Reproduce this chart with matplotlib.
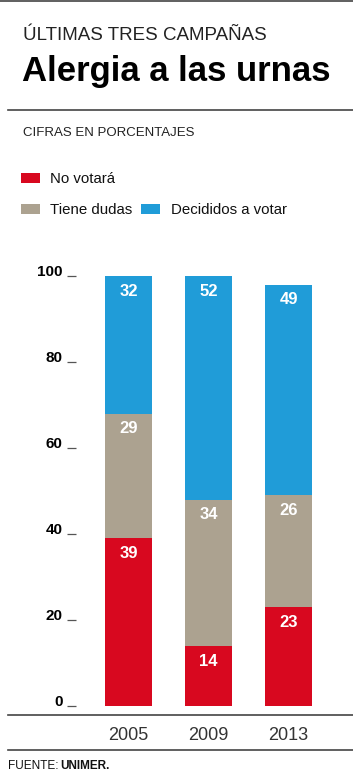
import matplotlib
matplotlib.use("Agg")
import matplotlib.pyplot as plt
from matplotlib.patches import Rectangle
from matplotlib.lines import Line2D
import numpy as np

plt.rcParams['font.family'] = ['Liberation Sans', 'DejaVu Sans']

# data
years = ["2005", "2009", "2013"]
no_votara = [39, 14, 23]
tiene_dudas = [29, 34, 26]
decididos = [32, 52, 49]
series_names = ["No votará", "Tiene dudas", "Decididos a votar"]
colors = ["#d8081f", "#aca290", "#209cd8"]
yticks = [0, 20, 40, 60, 80, 100]

W, H = 353, 773
fig = plt.figure(figsize=(W / 100, H / 100), dpi=100)

def fx(px):
    return px / W

def fy(py):
    return 1 - py / H

# header
fig.text(fx(23), fy(39.5), "ÚLTIMAS TRES CAMPAÑAS", fontsize=13.5, color="#222222",
         va="baseline", ha="left")
fig.text(fx(22), fy(81), "Alergia a las urnas", fontsize=25, fontweight="bold",
         color="#000000", va="baseline", ha="left")
fig.text(fx(23), fy(136), "CIFRAS EN PORCENTAJES", fontsize=9.5, color="#222222",
         va="baseline", ha="left")

# rules
for y, x0 in [(1, 0), (110, 8), (715, 8), (750, 8)]:
    fig.add_artist(Line2D([fx(x0), 1], [fy(y), fy(y)], color="#444444", lw=1.2,
                          transform=fig.transFigure))

# legend
legend_items = [(21, 173, 50, 0), (21, 204, 50, 1), (141, 204, 171, 2)]
for bx, by, tx, i in legend_items:
    fig.add_artist(Rectangle((fx(bx), fy(by + 10)), 19 / W, 10 / H,
                             facecolor=colors[i], edgecolor="none",
                             transform=fig.transFigure))
    fig.text(fx(tx), fy(by + 10), series_names[i], fontsize=10.8, color="#111111",
             va="baseline", ha="left")

# chart
ax = fig.add_axes([fx(76), fy(706), (W - 76) / W, 430 / H])
x = np.arange(len(years))
bottoms = np.zeros(len(years))
for vals, c in zip([no_votara, tiene_dudas, decididos], colors):
    bars = ax.bar(x, vals, width=0.5875, bottom=bottoms, color=c, edgecolor="none")
    for xi, b, v in zip(x, bottoms, vals):
        ax.annotate(str(v), (xi, b + v), xytext=(0, -11), textcoords="offset points",
                    ha="center", va="center", color="white", fontsize=12,
                    fontweight="bold")
    bottoms = bottoms + np.array(vals)

ax.set_xlim(-0.656, 2.806)
ax.set_ylim(0, 100)
ax.set_yticks(yticks)
ax.set_yticklabels([str(t) for t in yticks], fontsize=11, fontweight="bold")
for lbl in ax.get_yticklabels():
    lbl.set_verticalalignment("baseline")
ax.tick_params(axis="y", length=6.5, width=0.9, color="#555555", pad=3)
ax.set_xticks([])
for s in ax.spines.values():
    s.set_visible(False)
ax.patch.set_alpha(0)

for xi, yr in zip(x, years):
    ax.annotate(yr, (xi, 0), xytext=(0, -24.5), textcoords="offset points",
                ha="center", va="baseline", fontsize=13, color="#333333")

# source
fig.text(fx(8), fy(769), "FUENTE:", fontsize=8.5, color="#111111",
         va="baseline", ha="left")
fig.text(fx(60), fy(769), "UNIMER.", fontsize=8.5, fontweight="bold", color="#111111",
         va="baseline", ha="left")

fig.savefig("out.png", dpi=100)
